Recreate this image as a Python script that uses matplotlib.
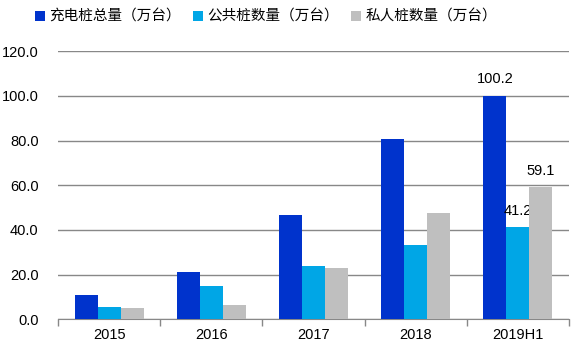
import matplotlib.pyplot as plt
import numpy as np

plt.rcParams['font.family'] = ['Liberation Sans', 'Noto Sans CJK SC', 'DejaVu Sans']

years = ['2015', '2016', '2017', '2018', '2019H1']
total = [10.9, 21.2, 46.7, 80.7, 100.2]
public = [5.5, 14.9, 23.9, 33.3, 41.2]
private = [5.1, 6.4, 23.0, 47.6, 59.1]
names = ['充电桩总量（万台）', '公共桩数量（万台）', '私人桩数量（万台）']
colors = ['#0033CC', '#00A6E6', '#BFBFBF']

fig = plt.figure(figsize=(5.78, 3.51), dpi=100)
ax = fig.add_axes([58 / 578, 1 - 319.3 / 351, 511 / 578, 268 / 351])

x = np.arange(len(years))
w = 0.225
for i, (vals, name, c) in enumerate(zip([total, public, private], names, colors)):
    ax.bar(x + (i - 1) * w, vals, w, color=c, label=name, zorder=3)
    # only the last group is labelled
    ax.text(x[-1] + (i - 1) * w, vals[-1] + 7.5, f'{vals[-1]:.1f}',
            ha='center', va='center', fontsize=10.5)

ax.set_xlim(-0.5, len(years) - 0.5)
ax.set_ylim(0, 120)
ax.set_yticks(np.arange(0, 121, 20))
ax.set_yticklabels([f'{v:.1f}' for v in np.arange(0, 121, 20)], fontsize=10.5)
ax.yaxis.grid(True, color='#888888', linewidth=1, zorder=0)
ax.tick_params(axis='y', length=0, pad=14)

ax.set_xticks(x)
ax.set_xticklabels(years, fontsize=10.5)
ax.set_xticks(np.arange(-0.5, len(years)), minor=True)
ax.tick_params(axis='x', which='major', length=0, pad=6)
ax.tick_params(axis='x', which='minor', length=5, color='#888888', width=1)

for s in ['top', 'right', 'left']:
    ax.spines[s].set_visible(False)
ax.spines['bottom'].set_color('#888888')

ax.legend(loc='center', bbox_to_anchor=(266 / 578, 1 - 17 / 351), bbox_transform=fig.transFigure,
          ncol=3, frameon=False, fontsize=10.5, handlelength=0.7, handleheight=0.7,
          handletextpad=0.3, columnspacing=0.8, borderaxespad=0)

fig.savefig('out.png', dpi=100)
